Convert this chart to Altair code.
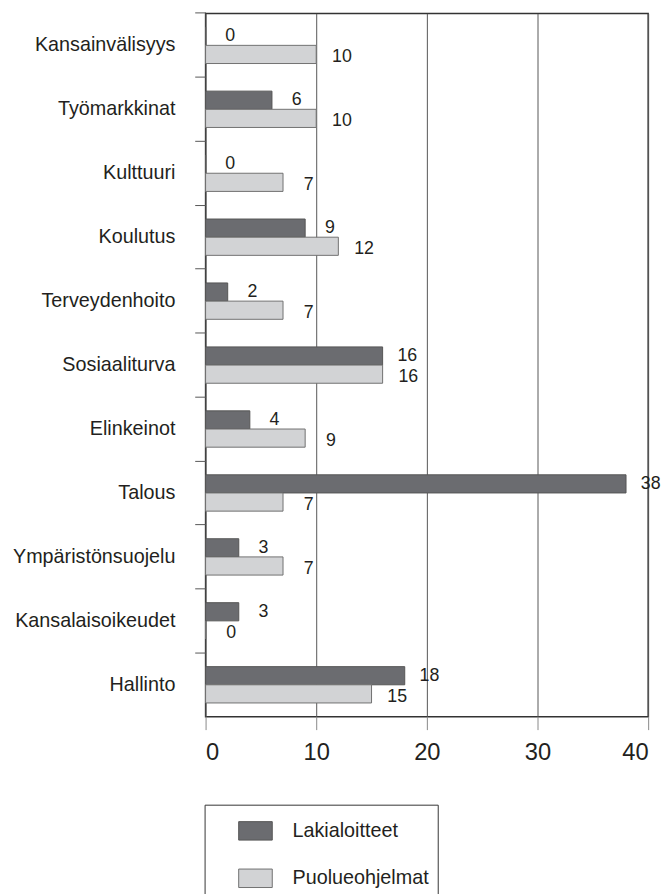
import altair as alt
import pandas as pd

categories = ["Kansainvälisyys", "Työmarkkinat", "Kulttuuri", "Koulutus",
              "Terveydenhoito", "Sosiaaliturva", "Elinkeinot", "Talous",
              "Ympäristönsuojelu", "Kansalaisoikeudet", "Hallinto"]
lakialoitteet = [0, 6, 0, 9, 2, 16, 4, 38, 3, 3, 18]
puolueohjelmat = [10, 10, 7, 12, 7, 16, 9, 7, 7, 0, 15]
series = ["Lakialoitteet", "Puolueohjelmat"]
x_ticks = [0, 10, 20, 30, 40]

rows = []
for c, a, b in zip(categories, lakialoitteet, puolueohjelmat):
    rows.append({"category": c, "series": series[0], "value": a})
    rows.append({"category": c, "series": series[1], "value": b})
df = pd.DataFrame(rows)

FONT = "Liberation Sans, Arial, sans-serif"
TXT = "#231f20"
DARK = "#6b6c70"
LIGHT = "#d2d3d5"

y_enc = alt.Y("category:N", sort=categories,
              scale=alt.Scale(paddingInner=0, paddingOuter=0),
              axis=alt.Axis(title=None, bandPosition=0, tickSize=11, tickColor="#555",
                            tickWidth=1, domain=False, labelPadding=20, labelLimit=400,
                            labelFontSize=20, labelFont=FONT, labelColor=TXT))
yoff_enc = alt.YOffset("series:N", sort=series,
                       scale=alt.Scale(paddingInner=0, paddingOuter=0.76))
x_enc = alt.X("value:Q", scale=alt.Scale(domain=[0, 40], nice=False),
              axis=alt.Axis(title=None, values=x_ticks, grid=True, gridColor="#555",
                            gridWidth=1, tickSize=13, tickColor="#888", domain=False,
                            labelPadding=11, labelFontSize=24, labelFont=FONT,
                            labelColor=TXT))

bars = alt.Chart(df).mark_bar(strokeWidth=1).encode(
    y=y_enc, yOffset=yoff_enc, x=x_enc,
    fill=alt.Fill("series:N", sort=series,
                  scale=alt.Scale(domain=series, range=[DARK, LIGHT]),
                  legend=alt.Legend(title=None, orient="none", legendX=-1, legendY=801,
                                    fillColor="white", strokeColor="#333",
                                    padding=9, symbolOffset=25,
                                    symbolType="M-1,-0.55L1,-0.55L1,0.55L-1,0.55Z",
                                    symbolSize=1156, symbolStrokeColor="#555",
                                    symbolStrokeWidth=1, rowPadding=19,
                                    labelFontSize=20, labelFont=FONT, labelColor=TXT,
                                    labelOffset=20,
                                    labelExpr="datum.label + '\u00a0\u00a0\u00a0\u00a0'")),
    stroke=alt.Stroke("series:N", sort=series,
                      scale=alt.Scale(domain=series, range=["#555555", "#707070"]),
                      legend=None),
)

lab_dark = alt.Chart(df).transform_filter(
    alt.datum.series == series[0]
).mark_text(align="center", baseline="middle", dx=25, dy=0, fontSize=18,
            font=FONT, color=TXT).encode(
    y=alt.Y("category:N", sort=categories), yOffset=alt.YOffset("series:N", sort=series),
    x=alt.X("value:Q"), text=alt.Text("value:Q"))

lab_light = alt.Chart(df).transform_filter(
    alt.datum.series == series[1]
).mark_text(align="center", baseline="middle", dx=26, dy=3, fontSize=18,
            font=FONT, color=TXT).encode(
    y=alt.Y("category:N", sort=categories), yOffset=alt.YOffset("series:N", sort=series),
    x=alt.X("value:Q"), text=alt.Text("value:Q"))

chart = alt.layer(bars, lab_dark, lab_light).properties(
    width=448, height=712,
    autosize=alt.AutoSizeParams(type="none"),
    padding={"left": 200, "top": 0, "right": 13, "bottom": 178},
).configure_view(stroke="#333", strokeWidth=1.5)

chart.save("out.html", embed_options={"renderer": "svg", "actions": False})
